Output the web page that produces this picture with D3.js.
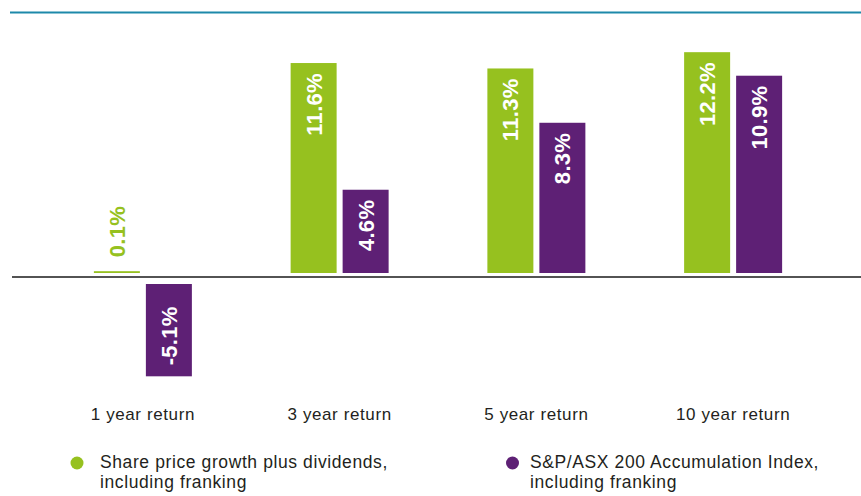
<!DOCTYPE html>
<html>
<head>
<meta charset="utf-8">
<script src="https://d3js.org/d3.v7.min.js"></script>
<style>
  body { margin: 0; background: #fff; }
  svg { display: block; font-family: "Liberation Sans", Arial, Helvetica, sans-serif; }
</style>
</head>
<body>
<section id="chart"><svg></svg></section>
<script>
// chart data
var categories = ['1 year return', '3 year return', '5 year return', '10 year return'];
var seriesNames = ['Share price growth plus dividends, including franking',
                   'S&P/ASX 200 Accumulation Index, including franking'];
var sharePrice = [0.1, 11.6, 11.3, 12.2];
var asxIndex = [-5.1, 4.6, 8.3, 10.9];
var legendLines = [['Share price growth plus dividends,', 'including franking'],
                   ['S&P/ASX 200 Accumulation Index,', 'including franking']];

var colors = ['#96c11f', '#5e2075'];

var width = 861, height = 496;

var svg = d3.select('#chart').select('svg')
    .attr('width', width)
    .attr('height', height);

// top rule
svg.append('line')
    .attr('x1', 10).attr('x2', width)
    .attr('y1', 12.5).attr('y2', 12.5)
    .attr('stroke', '#1d89aa')
    .attr('stroke-width', 2);

// scales
var x = d3.scaleBand()
    .domain(categories)
    .range([44.5, 831.5])
    .padding(0);

var y = d3.scaleLinear()
    .domain([-6, 14])
    .range([277 + 6 * 18.1, 277 - 14 * 18.1]);

var barW = 46, offset = 26;

// build flat bar list
var bars = [];
categories.forEach(function(c, i) {
    bars.push({cat: c, s: 0, v: sharePrice[i]});
    bars.push({cat: c, s: 1, v: asxIndex[i]});
});

function cx(d) {
    return x(d.cat) + x.bandwidth() / 2 + (d.s === 0 ? -offset : offset);
}
function barTop(d) {
    return d.v >= 0 ? y(d.v) - 4 : y(0) + 7;
}
function barHeight(d) {
    return Math.abs(y(d.v) - y(0));
}

svg.selectAll('.bar')
    .data(bars)
    .enter().append('rect')
    .attr('class', 'bar')
    .attr('x', function(d) { return cx(d) - barW / 2; })
    .attr('y', barTop)
    .attr('width', barW)
    .attr('height', barHeight)
    .attr('fill', function(d) { return colors[d.s]; });

// zero line
svg.append('line')
    .attr('x1', 12).attr('x2', width)
    .attr('y1', y(0)).attr('y2', y(0))
    .attr('stroke', '#1a1a1a')
    .attr('stroke-width', 1.6);

// value labels, rotated inside bars (or above when bar too short)
svg.selectAll('.val')
    .data(bars)
    .enter().append('text')
    .attr('class', 'val')
    .attr('transform', function(d) {
        var ty, small = d.v >= 0 && barHeight(d) < 40;
        if (small) ty = barTop(d) - 14;
        else if (d.v >= 0) ty = barTop(d) + 10;
        else ty = barTop(d) + barHeight(d) - 11;
        return 'translate(' + (cx(d) + 8) + ',' + ty + ') rotate(-90)';
    })
    .attr('text-anchor', function(d) {
        return (d.v >= 0 && barHeight(d) >= 40) ? 'end' : 'start';
    })
    .attr('fill', function(d) {
        return (d.v >= 0 && barHeight(d) < 40) ? colors[d.s] : '#fff';
    })
    .style('font-size', '22px')
    .style('font-weight', 'bold')
    .style('letter-spacing', '0.3px')
    .text(function(d) { return d.v.toFixed(1) + '%'; });

// category labels
svg.selectAll('.cat')
    .data(categories)
    .enter().append('text')
    .attr('class', 'cat')
    .attr('x', function(d) { return x(d) + x.bandwidth() / 2; })
    .attr('y', 420)
    .attr('text-anchor', 'middle')
    .attr('fill', '#231f20')
    .style('font-size', '17px')
    .style('letter-spacing', '0.6px')
    .text(function(d) { return d; });

// legend
var legendX = [77, 512.5],
    legendTextX = [23, 17.5];
var legend = svg.selectAll('.legend')
    .data(seriesNames)
    .enter().append('g')
    .attr('class', 'legend')
    .attr('transform', function(d, i) { return 'translate(' + legendX[i] + ',463)'; });

legend.append('circle')
    .attr('r', 6.5)
    .attr('fill', function(d, i) { return colors[i]; });

legend.append('text')
    .attr('fill', '#231f20')
    .style('font-size', '17.5px')
    .style('letter-spacing', '0.6px')
    .each(function(d, i) {
        var t = d3.select(this);
        legendLines[i].forEach(function(line, j) {
            t.append('tspan')
                .attr('x', legendTextX[i])
                .attr('y', 5 + j * 20)
                .text(line);
        });
    });
</script>
</body>
</html>
